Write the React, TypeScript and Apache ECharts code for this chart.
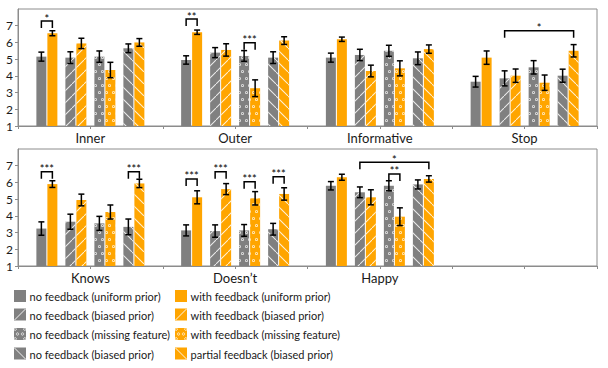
import { useEffect, useRef } from 'react';
import * as echarts from 'echarts';

// ---------- data ----------
const topCategories = ['Inner', 'Outer', 'Informative', 'Stop'];
const bottomCategories = ['Knows', 'Doesn’t', 'Happy', ''];

const seriesNames = [
  'no feedback (uniform prior)',
  'with feedback (uniform prior)',
  'no feedback (biased prior)',
  'with feedback (biased prior)',
  'no feedback (missing feature)',
  'with feedback (missing feature)',
  'no feedback (biased prior)',
  'partial feedback (biased prior)',
];

// top panel means (per series, per category)
const topNoFbUniform = [5.15, 4.95, 5.09, 3.65];
const topFbUniform = [6.55, 6.61, 6.19, 5.09];
const topNoFbBiased = [5.09, 5.39, 5.25, 3.85];
const topFbBiased = [5.94, 5.55, 4.29, 4.01];
const topNoFbMissing = [5.15, 5.19, 5.5, 4.51];
const topFbMissing = [4.35, 3.26, 4.45, 3.59];
const topNoFbBiased2 = [5.65, 5.09, 5.05, 4.01];
const topPartialFb = [6.0, 6.11, 5.6, 5.5];

// top panel error half-widths
const topNoFbUniformErr = [0.27, 0.25, 0.27, 0.32];
const topFbUniformErr = [0.15, 0.13, 0.13, 0.4];
const topNoFbBiasedErr = [0.35, 0.3, 0.34, 0.45];
const topFbBiasedErr = [0.31, 0.37, 0.35, 0.4];
const topNoFbMissingErr = [0.34, 0.32, 0.33, 0.4];
const topFbMissingErr = [0.46, 0.5, 0.45, 0.46];
const topNoFbBiased2Err = [0.26, 0.35, 0.38, 0.39];
const topPartialFbErr = [0.23, 0.23, 0.25, 0.37];

// bottom panel means
const botNoFbUniform = [3.24, 3.13, 5.8, null];
const botFbUniform = [5.9, 5.11, 6.31, null];
const botNoFbBiased = [3.65, 3.09, 5.41, null];
const botFbBiased = [4.95, 5.6, 5.11, null];
const botNoFbMissing = [3.55, 3.13, 5.8, null];
const botFbMissing = [4.23, 5.05, 3.95, null];
const botNoFbBiased2 = [3.34, 3.2, 5.88, null];
const botPartialFb = [5.94, 5.31, 6.21, null];

// bottom panel error half-widths
const botNoFbUniformErr = [0.4, 0.33, 0.25, null];
const botFbUniformErr = [0.2, 0.39, 0.18, null];
const botNoFbBiasedErr = [0.45, 0.37, 0.32, null];
const botFbBiasedErr = [0.35, 0.33, 0.45, null];
const botNoFbMissingErr = [0.42, 0.35, 0.3, null];
const botFbMissingErr = [0.42, 0.4, 0.53, null];
const botNoFbBiased2Err = [0.47, 0.35, 0.27, null];
const botPartialFbErr = [0.25, 0.37, 0.19, null];

// significance brackets: [category, fromBar, toBar, height, stars]
const topBrackets = [
  [0, 0, 1, 7.28, 1],
  [1, 0, 1, 7.4, 2],
  [1, 4, 5, 5.98, 3],
  [3, 2, 7, 6.7, 1],
];
const bottomBrackets = [
  [0, 0, 1, 6.64, 3],
  [0, 6, 7, 6.64, 3],
  [1, 0, 1, 6.21, 3],
  [1, 2, 3, 6.64, 3],
  [1, 4, 5, 6.04, 3],
  [1, 6, 7, 6.34, 3],
  [2, 2, 7, 7.21, 1],
  [2, 4, 5, 6.51, 2],
];

const topMeans = [topNoFbUniform, topFbUniform, topNoFbBiased, topFbBiased, topNoFbMissing, topFbMissing, topNoFbBiased2, topPartialFb];
const topErrs = [topNoFbUniformErr, topFbUniformErr, topNoFbBiasedErr, topFbBiasedErr, topNoFbMissingErr, topFbMissingErr, topNoFbBiased2Err, topPartialFbErr];
const botMeans = [botNoFbUniform, botFbUniform, botNoFbBiased, botFbBiased, botNoFbMissing, botFbMissing, botNoFbBiased2, botPartialFb];
const botErrs = [botNoFbUniformErr, botFbUniformErr, botNoFbBiasedErr, botFbBiasedErr, botNoFbMissingErr, botFbMissingErr, botNoFbBiased2Err, botPartialFbErr];

// ---------- style ----------
const GRAY = '#808080';
const ORANGE = '#FFA500';
const AXIS = '#8c8c8c';
const TEXT = '#1a1a1a';
const FONT = 'Lato';
const BAR_W = 10;
const GAP_PCT = 0.1;
const PAIR_STEP = 29;
const SPACER_W = (PAIR_STEP - 2 * BAR_W * (1 + GAP_PCT)) / (1 + GAP_PCT);

const RING = 'path://M5,0A5,5 0 1,1 5,10A5,5 0 1,1 5,0ZM5,2.6A2.4,2.4 0 1,0 5,7.4A2.4,2.4 0 1,0 5,2.6Z';
// one tile of a "/" stripe and of a "\" stripe (12 x 12 tile)
const SLASH = 'path://M0,11.3L11.3,0L12,0L12,0.7L0.7,12L0,12Z';
const BACK = 'path://M0,0L0.7,0L12,11.3L12,12L11.3,12L0,0.7Z';

const patterns = ['solid', 'solid', 'slash', 'slash', 'dots', 'dots', 'back', 'back'];

function decalFor(p: string): any {
  const c = 'rgba(255,255,255,0.85)';
  if (p === 'slash') return { symbol: SLASH, symbolSize: 1, dashArrayX: [12, 0], dashArrayY: [12, 0], rotation: 0, color: c };
  if (p === 'back') return { symbol: BACK, symbolSize: 1, dashArrayX: [12, 0], dashArrayY: [12, 0], rotation: 0, color: c };
  if (p === 'dots') return { symbol: RING, symbolSize: 1, dashArrayX: [[2.8, 3.2], [0, 3, 2.8, 0.2]], dashArrayY: [2.8, 3.2], rotation: 0, color: c };
  return undefined;
}

function barOffset(k: number) {
  const p = Math.floor(k / 2);
  const s = k % 2;
  return (-1.5 + p) * PAIR_STEP + (s ? 1 : -1) * (BAR_W * (1 + GAP_PCT)) / 2;
}

function errorItem(params: any, api: any) {
  const cat = api.value(0);
  const k = api.value(1);
  const v = api.value(2);
  const e = api.value(3);
  const x = api.coord([cat, v])[0] + barOffset(k);
  const yT = api.coord([cat, v + e])[1];
  const yB = api.coord([cat, v - e])[1];
  const style = { stroke: '#000', lineWidth: 1.5 };
  return {
    type: 'group',
    children: [
      { type: 'line', shape: { x1: x, y1: yT, x2: x, y2: yB }, style },
      { type: 'line', shape: { x1: x - 3, y1: yT, x2: x + 3, y2: yT }, style },
      { type: 'line', shape: { x1: x - 3, y1: yB, x2: x + 3, y2: yB }, style },
    ],
  };
}

function bracketItem(params: any, api: any) {
  const cat = api.value(0);
  const k0 = api.value(1);
  const k1 = api.value(2);
  const h = api.value(3);
  const n = api.value(4);
  const c = api.coord([cat, h]);
  const x0 = c[0] + barOffset(k0);
  const x1 = c[0] + barOffset(k1);
  const y = c[1];
  return {
    type: 'group',
    children: [
      {
        type: 'polyline',
        shape: { points: [[x0, y + 7], [x0, y], [x1, y], [x1, y + 7]] },
        style: { stroke: '#000', lineWidth: 1.5, fill: null },
      },
      {
        type: 'text',
        x: (x0 + x1) / 2,
        y: y - 3,
        style: { text: '*'.repeat(n), align: 'center', verticalAlign: 'middle', fontSize: 11, fontFamily: FONT, fill: '#000' },
      },
    ],
  };
}

function panelSeries(g: number, means: any[], errs: any[], brackets: number[][]) {
  const xi = g * 2;
  const out: any[] = [];
  const order: (number | null)[] = [0, 1, null, 2, 3, null, 4, 5, null, 6, 7];
  order.forEach((k) => {
    if (k === null) {
      out.push({ type: 'bar', xAxisIndex: xi, yAxisIndex: g, data: [], barWidth: SPACER_W, barGap: '10%', silent: true });
    } else {
      const decal = decalFor(patterns[k]);
      out.push({
        type: 'bar',
        name: seriesNames[k],
        xAxisIndex: xi,
        yAxisIndex: g,
        barWidth: BAR_W,
        barGap: '10%',
        data: means[k].map((v: any) => (v == null ? '-' : v)),
        itemStyle: decal ? { color: k % 2 ? ORANGE : GRAY, decal } : { color: k % 2 ? ORANGE : GRAY },
        silent: true,
      });
    }
  });
  const errData: number[][] = [];
  for (let k = 0; k < 8; k++) {
    means[k].forEach((v: any, c: number) => {
      if (v != null) errData.push([c, k, v, errs[k][c]]);
    });
  }
  out.push({ type: 'custom', xAxisIndex: xi, yAxisIndex: g, renderItem: errorItem, data: errData, z: 5, silent: true });
  out.push({ type: 'custom', xAxisIndex: xi, yAxisIndex: g, renderItem: bracketItem, data: brackets, z: 6, silent: true });
  return out;
}

function xAxes(g: number, cats: string[]) {
  return [
    {
      type: 'category',
      gridIndex: g,
      data: cats,
      axisLine: { lineStyle: { color: AXIS } },
      axisTick: { show: false },
      axisLabel: { fontSize: 13, color: TEXT, margin: 5, fontFamily: FONT },
    },
    {
      type: 'category',
      gridIndex: g,
      position: 'bottom',
      data: ['', '', '', '', '', '', '', ''],
      axisLine: { show: false },
      axisTick: { show: true, length: 3, lineStyle: { color: AXIS } },
      axisLabel: { show: false },
    },
  ];
}

function yAxis(g: number) {
  return {
    type: 'value',
    gridIndex: g,
    min: 1,
    max: 8,
    interval: 1,
    splitLine: { show: false },
    axisLine: { show: true, lineStyle: { color: AXIS } },
    axisTick: { show: true, length: 3, lineStyle: { color: AXIS } },
    axisLabel: { showMaxLabel: false, fontSize: 12, color: TEXT, margin: 5, fontFamily: FONT },
  };
}

// legend (graphic)
const legendRows = [296, 314.5, 334, 353.5];
const legendCols = [14, 175];

function legendGraphic() {
  const els: any[] = [];
  for (let i = 0; i < 8; i++) {
    const col = i % 2;
    const row = Math.floor(i / 2);
    const x = legendCols[col];
    const y = legendRows[row] - 6;
    const color = col ? ORANGE : GRAY;
    const p = patterns[i];
    const children: any[] = [{ type: 'rect', shape: { x: 0, y: 0, width: 12, height: 12 }, style: { fill: color } }];
    const w = { stroke: 'rgba(255,255,255,0.9)', lineWidth: 1 };
    if (p === 'slash') children.push({ type: 'line', shape: { x1: 0.5, y1: 11.5, x2: 11.5, y2: 0.5 }, style: w });
    if (p === 'back') children.push({ type: 'line', shape: { x1: 0.5, y1: 0.5, x2: 11.5, y2: 11.5 }, style: w });
    if (p === 'dots') {
      [[3.5, 6], [8.5, 6], [1.2, 1.2], [10.8, 1.2], [1.2, 10.8], [10.8, 10.8]].forEach(([cx, cy]) =>
        children.push({ type: 'circle', shape: { cx, cy, r: 1.2 }, style: { fill: null, stroke: 'rgba(255,255,255,0.9)', lineWidth: 0.8 } })
      );
    }
    els.push({ type: 'group', x, y, children });
    els.push({
      type: 'text',
      x: x + 15.5,
      y: legendRows[row] + 0.5,
      style: { text: seriesNames[i], fontSize: 11, fontFamily: FONT, fill: TEXT, verticalAlign: 'middle', align: 'left' },
    });
  }
  return els;
}

export default function App() {
  const ref = useRef<HTMLDivElement>(null);
  useEffect(() => {
    if (!ref.current) return;
    const chart = echarts.init(ref.current, null, { renderer: 'svg' });
    chart.setOption({
      animation: false,
      textStyle: { fontFamily: FONT },
      grid: [
        { left: 18, right: 11, top: 9, height: 117, show: true, borderColor: AXIS, borderWidth: 1, backgroundColor: 'transparent' },
        { left: 18, right: 11, top: 149, height: 117, show: true, borderColor: AXIS, borderWidth: 1, backgroundColor: 'transparent' },
      ],
      xAxis: [...xAxes(0, topCategories), ...xAxes(1, bottomCategories)],
      yAxis: [yAxis(0), yAxis(1)],
      series: [
        ...panelSeries(0, topMeans, topErrs, topBrackets),
        ...panelSeries(1, botMeans, botErrs, bottomBrackets),
      ],
      graphic: legendGraphic(),
    });
    return () => chart.dispose();
  }, []);
  return <div ref={ref} style={{ width: 608, height: 368, position: 'absolute', left: 0, top: 0 }} />;
}
